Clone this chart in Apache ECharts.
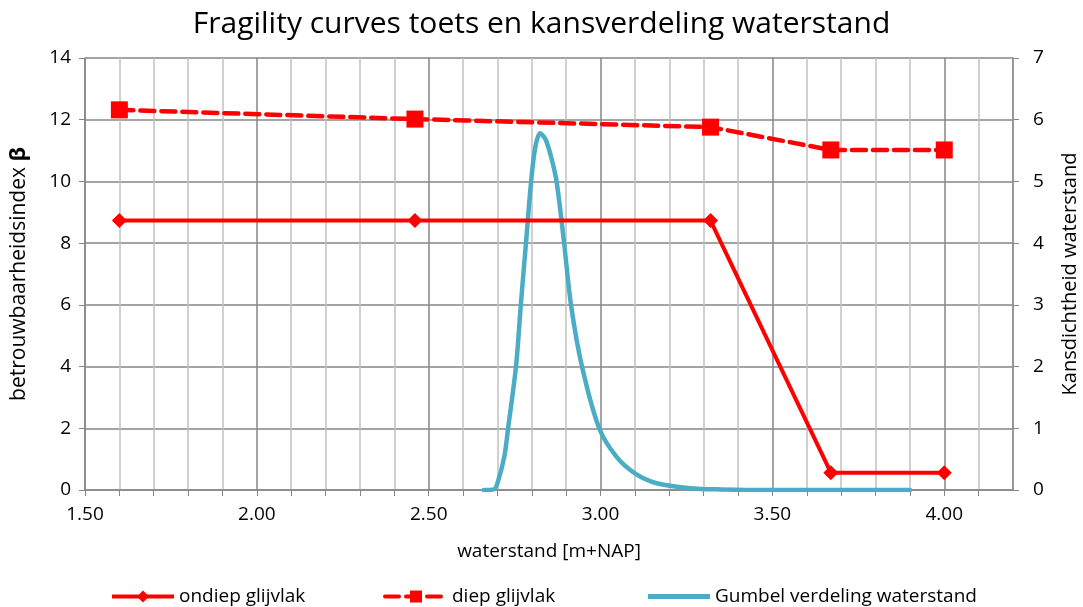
<!DOCTYPE html>
<html>
<head>
<meta charset="utf-8">
<script src="https://cdn.jsdelivr.net/npm/echarts@6/dist/echarts.min.js"></script>
<style>
  html, body {margin: 0; padding: 0; background: #fff;}
  #chart {width: 1083px; height: 607px;}
</style>
</head>
<body>
<div id="chart"></div>
<script>
// fragility curves (left axis)
const ondiepX = [1.60, 2.46, 3.32, 3.67, 4.00];
const ondiepY = [8.73, 8.73, 8.73, 0.56, 0.56];
const diepX = [1.60, 2.46, 3.32, 3.67, 4.00];
const diepY = [12.32, 12.02, 11.76, 11.02, 11.02];

// Gumbel density (right axis)
const gumbelX = [2.66, 2.69, 2.70, 2.72, 2.731, 2.754, 2.768, 2.783, 2.798, 2.81, 2.824,
    2.84, 2.856, 2.872, 2.894, 2.914, 2.946, 2.996, 3.046, 3.10, 3.163, 3.26, 3.35, 3.50, 3.70, 3.90];
const gumbelY = [0, 0.01, 0.11, 0.54, 1.0, 2.0, 3.0, 4.0, 5.0, 5.55, 5.78,
    5.68, 5.4, 5.0, 4.0, 3.0, 2.0, 1.0, 0.54, 0.27, 0.11, 0.03, 0.01, 0, 0, 0];

const xMin = 1.5, xMax = 4.2;
const leftMax = 14, rightMax = 7;

const pair = (xs, ys) => xs.map((x, i) => [x, ys[i]]);

const font = '"Open Sans", sans-serif';
const major = '#868686';
const minor = '#c0c0c0';
const red = '#ff0000';
const blue = '#4bacc6';

const legendBase = {
    itemWidth: 62, itemHeight: 15, itemGap: 6,
    lineStyle: {width: 4},
    textStyle: {fontFamily: font, fontSize: 19, color: '#000'}
};

const chart = echarts.init(document.getElementById('chart'));
const option = {
    animation: false,
    title: {
        text: 'Fragility curves toets en kansverdeling waterstand',
        left: 'center',
        top: 4,
        textStyle: {fontFamily: font, fontWeight: 'normal', fontSize: 30, color: '#000'}
    },
    legend: [
        Object.assign({data: ['ondiep glijvlak'], left: 105, top: 582}, legendBase),
        Object.assign({data: ['diep glijvlak'], left: 378, top: 582}, legendBase),
        Object.assign({data: [{name: 'Gumbel verdeling waterstand', icon: 'rect'}], left: 643, top: 582},
            legendBase, {itemHeight: 5, itemWidth: 62})
    ],
    grid: {left: 85, right: 70, top: 58, bottom: 117, containLabel: false, outerBoundsMode: 'none'},
    xAxis: {
        type: 'value',
        min: xMin, max: xMax, interval: 0.1,
        name: 'waterstand [m+NAP]',
        nameLocation: 'middle',
        nameGap: 52,
        nameTextStyle: {fontFamily: font, fontSize: 19, color: '#000'},
        axisLine: {lineStyle: {color: major, width: 1.5}},
        axisTick: {show: true, length: 6, lineStyle: {color: major}},
        axisLabel: {
            fontFamily: font, fontSize: 19, color: '#000', margin: 15,
            showMaxLabel: false,
            formatter: v => Math.abs(v * 2 - Math.round(v * 2)) < 1e-6 ? v.toFixed(2) : ''
        },
        splitLine: {show: true, lineStyle: {color: [major, minor, minor, minor, minor], width: 1.5}}
    },
    yAxis: [
        {
            type: 'value', min: 0, max: leftMax, interval: 2,
            name: 'betrouwbaarheidsindex {b|β}',
            nameLocation: 'middle', nameGap: 55,
            nameTextStyle: {
                fontFamily: font, fontSize: 21, color: '#000',
                rich: {b: {fontFamily: font, fontSize: 22, fontWeight: 'bold', color: '#000'}}
            },
            axisLine: {show: true, lineStyle: {color: major, width: 1.5}},
            axisTick: {show: true, length: 6, lineStyle: {color: major}},
            axisLabel: {fontFamily: font, fontSize: 19, color: '#000', margin: 14},
            splitLine: {show: true, lineStyle: {color: major, width: 1.5}}
        },
        {
            type: 'value', min: 0, max: rightMax, interval: 1,
            name: 'Kansdichtheid waterstand',
            nameLocation: 'middle', nameGap: 47, nameRotate: 90,
            nameTextStyle: {fontFamily: font, fontSize: 20, color: '#000'},
            axisLine: {show: true, lineStyle: {color: major, width: 1.5}},
            axisTick: {show: true, length: 6, lineStyle: {color: major}},
            axisLabel: {fontFamily: font, fontSize: 19, color: '#000', margin: 20},
            splitLine: {show: false}
        }
    ],
    series: [
        {
            name: 'ondiep glijvlak', type: 'line', yAxisIndex: 0,
            data: pair(ondiepX, ondiepY),
            symbol: 'diamond', symbolSize: 15,
            itemStyle: {color: red},
            lineStyle: {color: red, width: 4}
        },
        {
            name: 'diep glijvlak', type: 'line', yAxisIndex: 0,
            data: pair(diepX, diepY),
            symbol: 'rect', symbolSize: 17,
            itemStyle: {color: red},
            lineStyle: {color: red, width: 4.5, type: [14, 7], cap: 'round'}
        },
        {
            name: 'Gumbel verdeling waterstand', type: 'line', yAxisIndex: 1,
            data: pair(gumbelX, gumbelY),
            smooth: 0.3,
            showSymbol: false, symbol: 'none',
            itemStyle: {color: blue},
            lineStyle: {color: blue, width: 4.5, cap: 'round'},
            z: 1
        }
    ]
};
chart.setOption(option);
</script>
</body>
</html>
